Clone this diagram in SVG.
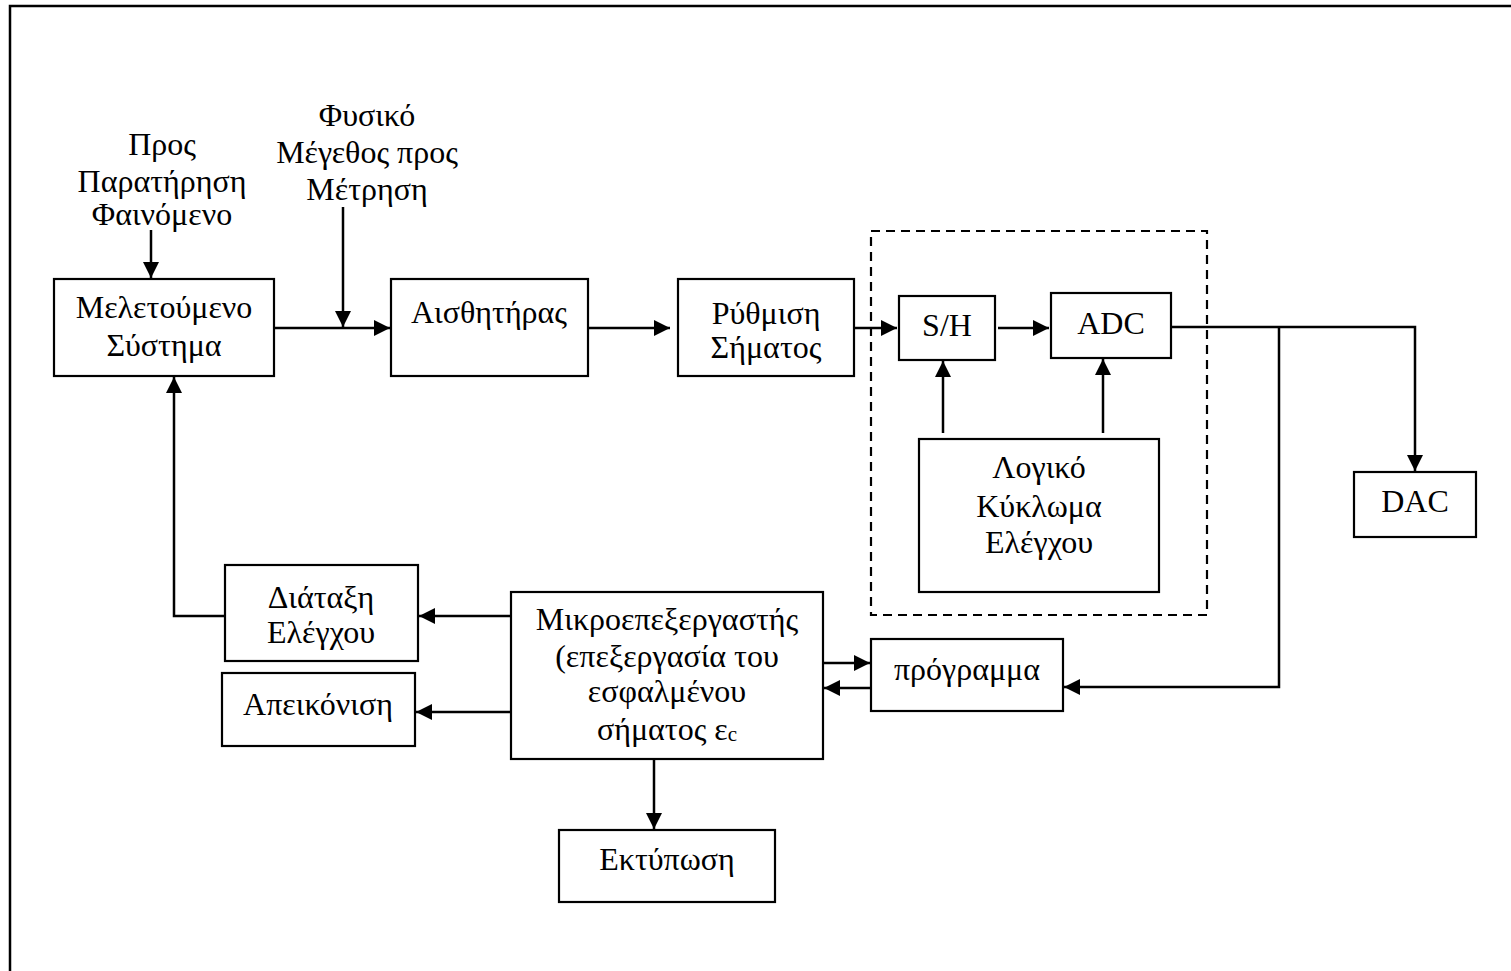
<svg xmlns="http://www.w3.org/2000/svg" width="1511" height="971" viewBox="0 0 1511 971">
<defs>
<marker id="ah" markerUnits="userSpaceOnUse" markerWidth="17" markerHeight="16" refX="16" refY="8" orient="auto">
<path d="M0,0 L16,8 L0,16 Z" fill="#000"/>
</marker>
<style>
.box{fill:#fff;stroke:#000;stroke-width:2.2}
.ln{fill:none;stroke:#000;stroke-width:2.5}
.ar{fill:none;stroke:#000;stroke-width:2.5;marker-end:url(#ah)}
.dash{fill:none;stroke:#000;stroke-width:2.2;stroke-dasharray:9,6}
text{font-family:"Liberation Serif","Times New Roman",serif;font-size:32px;fill:#000;text-anchor:middle}
</style>
</defs>
<rect x="10" y="6" width="1600" height="1100" fill="#fff" stroke="#000" stroke-width="2.5"/>
<rect class="dash" x="871" y="231" width="336" height="384"/>

<g id="connectors">
<line class="ar" x1="151" y1="230" x2="151" y2="278"/>
<line class="ar" x1="343" y1="207" x2="343" y2="327"/>
<line class="ar" x1="274" y1="328" x2="390" y2="328"/>
<line class="ar" x1="588" y1="328" x2="670" y2="328"/>
<line class="ar" x1="854" y1="328" x2="897" y2="328"/>
<line class="ar" x1="998" y1="328" x2="1049" y2="328"/>
<polyline class="ar" points="1171,327 1415,327 1415,471"/>
<polyline class="ar" points="1279,327 1279,687 1064,687"/>
<line class="ar" x1="943" y1="433" x2="943" y2="361"/>
<line class="ar" x1="1103" y1="433" x2="1103" y2="359"/>
<polyline class="ar" points="225,616 174,616 174,377"/>
<line class="ar" x1="511" y1="616" x2="419" y2="616"/>
<line class="ar" x1="511" y1="712" x2="416" y2="712"/>
<line class="ar" x1="823" y1="663" x2="870" y2="663"/>
<line class="ar" x1="871" y1="688" x2="824" y2="688"/>
<line class="ar" x1="654" y1="759" x2="654" y2="829"/>
</g>

<g id="label-phenomenon">
<text x="162" y="155">Προς</text>
<text x="162" y="192">Παρατήρηση</text>
<text x="162" y="225">Φαινόμενο</text>
</g>
<g id="label-quantity">
<text x="367" y="126">Φυσικό</text>
<text x="367" y="163">Μέγεθος προς</text>
<text x="367" y="200">Μέτρηση</text>
</g>

<g id="system">
<rect class="box" x="54" y="279" width="220" height="97"/>
<text x="164" y="318">Μελετούμενο</text>
<text x="164" y="356">Σύστημα</text>
</g>
<g id="sensor">
<rect class="box" x="391" y="279" width="197" height="97"/>
<text x="489" y="323">Αισθητήρας</text>
</g>
<g id="conditioning">
<rect class="box" x="678" y="279" width="176" height="97"/>
<text x="766" y="324">Ρύθμιση</text>
<text x="766" y="358">Σήματος</text>
</g>
<g id="sh">
<rect class="box" x="899" y="296" width="96" height="64"/>
<text x="947" y="336">S/H</text>
</g>
<g id="adc">
<rect class="box" x="1051" y="293" width="120" height="65"/>
<text x="1111" y="334">ADC</text>
</g>
<g id="logic">
<rect class="box" x="919" y="439" width="240" height="153"/>
<text x="1039" y="478">Λογικό</text>
<text x="1039" y="517">Κύκλωμα</text>
<text x="1039" y="553">Ελέγχου</text>
</g>
<g id="dac">
<rect class="box" x="1354" y="472" width="122" height="65"/>
<text x="1415" y="512">DAC</text>
</g>
<g id="control">
<rect class="box" x="225" y="565" width="193" height="96"/>
<text x="321" y="608" font-size="31">Διάταξη</text>
<text x="321" y="643" font-size="31">Ελέγχου</text>
</g>
<g id="display">
<rect class="box" x="222" y="673" width="193" height="73"/>
<text x="318" y="715">Απεικόνιση</text>
</g>
<g id="micro">
<rect class="box" x="511" y="592" width="312" height="167"/>
<text x="667" y="630">Μικροεπεξεργαστής</text>
<text x="667" y="667">(επεξεργασία του</text>
<text x="667" y="702">εσφαλμένου</text>
<text x="667" y="740">σήματος ε<tspan font-size="21" dy="1">c</tspan></text>
</g>
<g id="program">
<rect class="box" x="871" y="639" width="192" height="72"/>
<text x="967" y="680">πρόγραμμα</text>
</g>
<g id="print">
<rect class="box" x="559" y="830" width="216" height="72"/>
<text x="667" y="870">Εκτύπωση</text>
</g>
</svg>
